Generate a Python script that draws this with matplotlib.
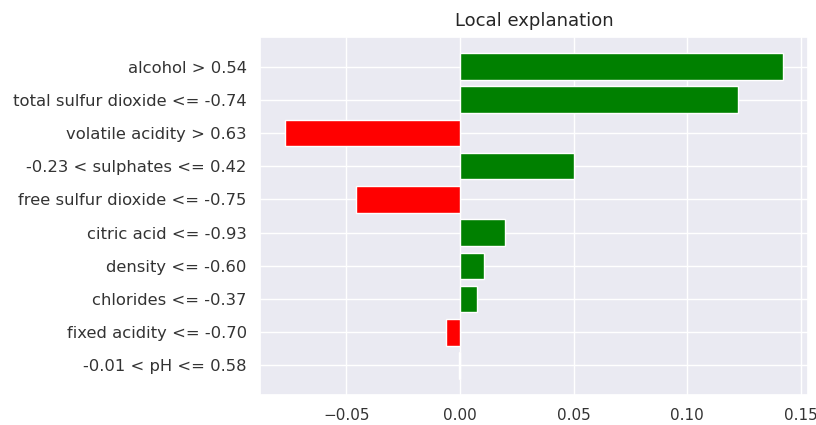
import matplotlib
matplotlib.use('Agg')
import matplotlib.pyplot as plt
import seaborn as sns

sns.set_theme(style='darkgrid')
plt.rcParams['font.family'] = ['DejaVu Sans']

# LIME local explanation, top feature first
features = [
    'alcohol > 0.54',
    'total sulfur dioxide <= -0.74',
    'volatile acidity > 0.63',
    '-0.23 < sulphates <= 0.42',
    'free sulfur dioxide <= -0.75',
    'citric acid <= -0.93',
    'density <= -0.60',
    'chlorides <= -0.37',
    'fixed acidity <= -0.70',
    '-0.01 < pH <= 0.58',
]
weights = [0.1423, 0.1225, -0.0771, 0.0502, -0.0458, 0.0198, 0.0106, 0.0076, -0.0062, -0.0004]

# lime draws bottom-up
vals = weights[::-1]
names = features[::-1]
colors = ['green' if v > 0 else 'red' for v in vals]
pos = list(range(len(vals)))

fig = plt.figure(figsize=(8.16, 4.25), dpi=100)
ax = fig.add_axes([0.3186, 0.0706, 0.6716, 0.8424])
ax.barh(pos, vals, align='center', color=colors, edgecolor='white', linewidth=1)
ax.set_yticks(pos)
ax.set_yticklabels(names, fontsize=11.8, color='#333333')
ax.tick_params(axis='x', labelsize=11, labelcolor='#333333')
ax.set_title('Local explanation', fontsize=13, color='#262626', pad=8)

fig.savefig('out.png', dpi=100)
